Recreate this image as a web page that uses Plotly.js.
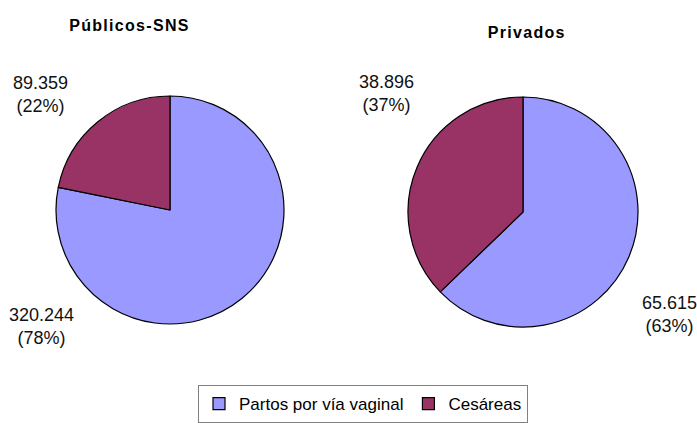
<!DOCTYPE html>
<html>
<head>
<meta charset="utf-8">
<script src="https://cdn.plot.ly/plotly-3.0.1.min.js"></script>
<style>
  body { margin: 0; background: #fff; }
  #chart { width: 697px; height: 423px; }
  /* the original titles are letter-spaced */
  .annotation-text.ptitle { letter-spacing: 1.3px; }
</style>
</head>
<body>
<div id="chart"></div>
<script>
// categories and values
const categories = ["Partos por vía vaginal", "Cesáreas"];
const publicValues = [320244, 89359];
const privateValues = [65615, 38896];
const pieTitles = ["Públicos-SNS", "Privados"];
const sliceColors = ["#9999FF", "#993366"];

// thousands separator with a dot, as in the original
function fmt(v) {
  return String(v).replace(/\B(?=(\d{3})+(?!\d))/g, ".");
}

function pct(values, i) {
  let total = values.reduce((a, b) => a + b, 0);
  return Math.round((values[i] / total) * 100) + "%";
}

function sliceLabel(values, i) {
  return fmt(values[i]) + "<br>(" + pct(values, i) + ")";
}

let W = 697, H = 423;
// helpers to place things in pixel terms
let px = (x) => x / W;
let py = (y) => (H - y) / H;

let data = [
  {
    type: "pie",
    labels: categories,
    values: publicValues,
    sort: false,
    direction: "clockwise",
    rotation: 0,
    textinfo: "none",
    hoverinfo: "label+value+percent",
    marker: { colors: sliceColors, line: { color: "#000", width: 1.2 } },
    domain: { x: [px(56), px(284)], y: [py(324), py(96)] },
    showlegend: true,
  },
  {
    type: "pie",
    labels: categories,
    values: privateValues,
    sort: false,
    direction: "clockwise",
    rotation: 0,
    textinfo: "none",
    hoverinfo: "label+value+percent",
    marker: { colors: sliceColors, line: { color: "#000", width: 1.2 } },
    domain: { x: [px(408), px(638)], y: [py(327), py(97)] },
    showlegend: false,
  },
];

let labelFont = { family: "Liberation Sans, Arial, sans-serif", size: 18, color: "#111" };
let titleFont = { family: "Liberation Sans, Arial, sans-serif", size: 16, color: "#000", weight: "bold" };

let annotations = [
  { text: "<b>" + pieTitles[0] + "</b>", x: px(129), y: py(26), font: titleFont },
  { text: "<b>" + pieTitles[1] + "</b>", x: px(527), y: py(32), font: titleFont },
  { text: sliceLabel(publicValues, 1), x: px(40), y: py(94), font: labelFont },
  { text: sliceLabel(publicValues, 0), x: px(41), y: py(326), font: labelFont },
  { text: sliceLabel(privateValues, 1), x: px(387), y: py(93), font: labelFont },
  { text: sliceLabel(privateValues, 0), x: px(669), y: py(314), font: labelFont },
].map((a) => ({
  ...a,
  xref: "paper",
  yref: "paper",
  xanchor: "center",
  yanchor: "middle",
  showarrow: false,
  align: "center",
}));

let layout = {
  width: W,
  height: H,
  margin: { l: 0, r: 0, t: 0, b: 0 },
  paper_bgcolor: "#fff",
  annotations: annotations,
  legend: {
    orientation: "h",
    x: px(363),
    xanchor: "center",
    y: 0,
    yanchor: "bottom",
    bordercolor: "#808080",
    borderwidth: 1,
    itemwidth: 30,
    font: { family: "Liberation Sans, Arial, sans-serif", size: 17, color: "#000" },
    traceorder: "normal",
  },
};

Plotly.newPlot("chart", data, layout, { displayModeBar: false, staticPlot: true }).then((gd) => {
  // tag the two title annotations for the letter spacing rule
  let texts = gd.querySelectorAll(".annotation-text");
  if (texts[0]) texts[0].classList.add("ptitle");
  if (texts[1]) texts[1].classList.add("ptitle");
});
</script>
</body>
</html>
